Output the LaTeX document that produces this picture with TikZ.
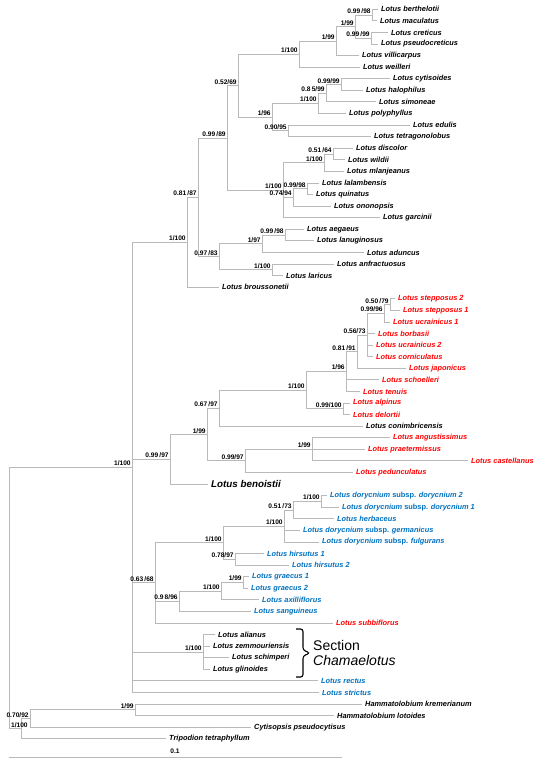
\documentclass[tikz,border=0pt]{standalone}
\usepackage{fontspec}
\setmainfont{Liberation Sans}
\definecolor{branchgray}{RGB}{185,185,185}
\definecolor{lotred}{RGB}{255,0,0}
\definecolor{lotblue}{RGB}{0,112,192}
\tikzset{
  branch/.style={draw=branchgray, line width=0.9pt},
  taxon/.style={anchor=west, inner xsep=3pt, inner ysep=0pt, font=\fontsize{7.4}{8}\selectfont\bfseries\itshape},
  sup/.style={anchor=south east, inner sep=1.2pt, font=\fontsize{6.6}{7}\selectfont\bfseries},
}

\begin{document}
\begin{tikzpicture}[x=1pt, y=-1pt]
    \useasboundingbox (0,0) rectangle (550,764);

    % taxa
    \node[taxon] (bert) at (378,9.3) {Lotus berthelotii};
    \node[taxon] (macu) at (377,20.9) {Lotus maculatus};
    \node[taxon] (cret) at (388,32.5) {Lotus creticus};
    \node[taxon] (pseu) at (378,44.0) {Lotus pseudocreticus};
    \node[taxon] (vill) at (359,55.6) {Lotus villicarpus};
    \node[taxon] (weil) at (360,67.2) {Lotus weilleri};
    \node[taxon] (cyti) at (390,78.8) {Lotus cytisoides};
    \node[taxon] (halo) at (363,90.4) {Lotus halophilus};
    \node[taxon] (simo) at (376,101.9) {Lotus simoneae};
    \node[taxon] (poly) at (346,113.5) {Lotus polyphyllus};
    \node[taxon] (edul) at (410,125.1) {Lotus edulis};
    \node[taxon] (tetr) at (371,136.7) {Lotus tetragonolobus};
    \node[taxon] (disc) at (353,148.3) {Lotus discolor};
    \node[taxon] (wild) at (345,159.8) {Lotus wildii};
    \node[taxon] (mlan) at (344,171.4) {Lotus mlanjeanus};
    \node[taxon] (lala) at (319,183.0) {Lotus lalambensis};
    \node[taxon] (quin) at (313,194.6) {Lotus quinatus};
    \node[taxon] (onon) at (331,206.2) {Lotus ononopsis};
    \node[taxon] (garc) at (380,217.7) {Lotus garcinii};
    \node[taxon] (aega) at (304,229.3) {Lotus aegaeus};
    \node[taxon] (lanu) at (314,240.9) {Lotus lanuginosus};
    \node[taxon] (adun) at (364,252.5) {Lotus aduncus};
    \node[taxon] (anfr) at (334,264.1) {Lotus anfractuosus};
    \node[taxon] (lari) at (283,275.6) {Lotus laricus};
    \node[taxon] (brou) at (219,287.2) {Lotus broussonetii};
    \node[taxon, lotred] (step2) at (395,298.8) {Lotus stepposus 2};
    \node[taxon, lotred] (step1) at (400,310.4) {Lotus stepposus 1};
    \node[taxon, lotred] (ucra1) at (390,322.0) {Lotus ucrainicus 1};
    \node[taxon, lotred] (borb) at (375,333.5) {Lotus borbasii};
    \node[taxon, lotred] (ucra2) at (373,345.1) {Lotus ucrainicus 2};
    \node[taxon, lotred] (corn) at (373,356.7) {Lotus corniculatus};
    \node[taxon, lotred] (japo) at (406,368.3) {Lotus japonicus};
    \node[taxon, lotred] (scho) at (379,379.9) {Lotus schoelleri};
    \node[taxon, lotred] (tenu) at (360,391.4) {Lotus tenuis};
    \node[taxon, lotred] (alpi) at (350,403.0) {Lotus alpinus};
    \node[taxon, lotred] (delo) at (350,414.6) {Lotus delortii};
    \node[taxon] (coni) at (363,426.2) {Lotus conimbricensis};
    \node[taxon, lotred] (angu) at (390,437.8) {Lotus angustissimus};
    \node[taxon, lotred] (prae) at (365,449.3) {Lotus praetermissus};
    \node[taxon, lotred] (cast) at (468,460.9) {Lotus castellanus};
    \node[taxon, lotred] (pedu) at (353,472.5) {Lotus pedunculatus};
    \node[taxon, font=\fontsize{9.8}{11}\selectfont\bfseries\itshape] (beno) at (208,484.1) {Lotus benoistii};
    \node[taxon, lotblue] (dory2) at (327,495.7) {Lotus dorycnium \textup{subsp.} dorycnium 2};
    \node[taxon, lotblue] (dory1) at (339,507.2) {Lotus dorycnium \textup{subsp.} dorycnium 1};
    \node[taxon, lotblue] (herb) at (334,518.8) {Lotus herbaceus};
    \node[taxon, lotblue] (germ) at (300,530.4) {Lotus dorycnium \textup{subsp.} germanicus};
    \node[taxon, lotblue] (fulg) at (319,542.0) {Lotus dorycnium \textup{subsp.} fulgurans};
    \node[taxon, lotblue] (hirs1) at (264,553.6) {Lotus hirsutus 1};
    \node[taxon, lotblue] (hirs2) at (289,565.1) {Lotus hirsutus 2};
    \node[taxon, lotblue] (grae1) at (249,576.7) {Lotus graecus 1};
    \node[taxon, lotblue] (grae2) at (248,588.3) {Lotus graecus 2};
    \node[taxon, lotblue] (axil) at (259,599.9) {Lotus axilliflorus};
    \node[taxon, lotblue] (sang) at (251,611.5) {Lotus sanguineus};
    \node[taxon, lotred] (subb) at (333,623.0) {Lotus subbiflorus};
    \node[taxon] (alia) at (215,634.6) {Lotus alianus};
    \node[taxon] (zemm) at (210,646.2) {Lotus zemmouriensis};
    \node[taxon] (schi) at (229,657.8) {Lotus schimperi};
    \node[taxon] (glin) at (210,669.4) {Lotus glinoides};
    \node[taxon, lotblue] (rect) at (318,680.9) {Lotus rectus};
    \node[taxon, lotblue] (stri) at (319,692.5) {Lotus strictus};
    \node[taxon] (krem) at (362,704.1) {Hammatolobium kremerianum};
    \node[taxon] (loto) at (334,715.7) {Hammatolobium lotoides};
    \node[taxon] (cyps) at (251,727.3) {Cytisopsis pseudocytisus};
    \node[taxon] (trip) at (166,738.8) {Tripodion tetraphyllum};

    % internal nodes
    \coordinate (n10) at (372,15.1);
    \coordinate (n11) at (371,38.3);
    \coordinate (n9) at (355,26.7);
    \coordinate (n8) at (336,41.2);
    \coordinate (n6) at (299,54.2);
    \coordinate (n15) at (341,84.6);
    \coordinate (n14) at (326,93.3);
    \coordinate (n12) at (318,103.4);
    \coordinate (n13) at (288,130.9);
    \coordinate (n7) at (272,117.1);
    \coordinate (n4) at (238,85.7);
    \coordinate (n20) at (333,154.1);
    \coordinate (n16) at (324,162.7);
    \coordinate (n19) at (307,188.8);
    \coordinate (n17) at (293,197.5);
    \coordinate (n5) at (283,190.2);
    \coordinate (n3) at (227,138.0);
    \coordinate (n23) at (285,235.1);
    \coordinate (n21) at (262,243.8);
    \coordinate (n22) at (272,269.9);
    \coordinate (n24) at (219,256.8);
    \coordinate (n2) at (198,197.4);
    \coordinate (n1) at (187,242.3);
    \coordinate (m20) at (390,304.6);
    \coordinate (m19) at (384,313.3);
    \coordinate (m18) at (367,335.0);
    \coordinate (m17) at (357,351.6);
    \coordinate (m15) at (346,371.5);
    \coordinate (m16) at (343,408.8);
    \coordinate (m14) at (306,390.2);
    \coordinate (m12) at (219,408.2);
    \coordinate (m21) at (312,449.3);
    \coordinate (m13) at (245,460.9);
    \coordinate (m11) at (207,434.6);
    \coordinate (m1) at (170,459.3);
    \coordinate (m8) at (321,501.5);
    \coordinate (m7) at (293,510.1);
    \coordinate (m5) at (284,526.1);
    \coordinate (m6) at (235,559.4);
    \coordinate (m3) at (223,542.7);
    \coordinate (m10) at (243,582.5);
    \coordinate (m9) at (221,591.2);
    \coordinate (m4) at (179,601.3);
    \coordinate (m2) at (155,582.9);
    \coordinate (cham) at (203,652.0);
    \coordinate (lotus) at (132,467.4);
    \coordinate (hamm) at (135,709.9);
    \coordinate (out2) at (30,718.6);
    \coordinate (out1) at (21,728.7);
    \coordinate (root) at (9,598.1);

    % branches
    \draw[branch] (n10) |- (bert);
    \draw[branch] (n10) |- (macu);
    \draw[branch] (n11) |- (cret);
    \draw[branch] (n11) |- (pseu);
    \draw[branch] (n9) |- (n10);
    \draw[branch] (n9) |- (n11);
    \draw[branch] (n8) |- (n9);
    \draw[branch] (n8) |- (vill);
    \draw[branch] (n6) |- (n8);
    \draw[branch] (n6) |- (weil);
    \draw[branch] (n15) |- (cyti);
    \draw[branch] (n15) |- (halo);
    \draw[branch] (n14) |- (n15);
    \draw[branch] (n14) |- (simo);
    \draw[branch] (n12) |- (n14);
    \draw[branch] (n12) |- (poly);
    \draw[branch] (n13) |- (edul);
    \draw[branch] (n13) |- (tetr);
    \draw[branch] (n7) |- (n12);
    \draw[branch] (n7) |- (n13);
    \draw[branch] (n4) |- (n6);
    \draw[branch] (n4) |- (n7);
    \draw[branch] (n20) |- (disc);
    \draw[branch] (n20) |- (wild);
    \draw[branch] (n16) |- (n20);
    \draw[branch] (n16) |- (mlan);
    \draw[branch] (n19) |- (lala);
    \draw[branch] (n19) |- (quin);
    \draw[branch] (n17) |- (n19);
    \draw[branch] (n17) |- (onon);
    \draw[branch] (n5) |- (n16);
    \draw[branch] (n5) |- (n17);
    \draw[branch] (n5) |- (garc);
    \draw[branch] (n3) |- (n4);
    \draw[branch] (n3) |- (n5);
    \draw[branch] (n23) |- (aega);
    \draw[branch] (n23) |- (lanu);
    \draw[branch] (n21) |- (n23);
    \draw[branch] (n21) |- (adun);
    \draw[branch] (n22) |- (anfr);
    \draw[branch] (n22) |- (lari);
    \draw[branch] (n24) |- (n21);
    \draw[branch] (n24) |- (n22);
    \draw[branch] (n2) |- (n3);
    \draw[branch] (n2) |- (n24);
    \draw[branch] (n1) |- (n2);
    \draw[branch] (n1) |- (brou);
    \draw[branch] (m20) |- (step2);
    \draw[branch] (m20) |- (step1);
    \draw[branch] (m19) |- (m20);
    \draw[branch] (m19) |- (ucra1);
    \draw[branch] (m18) |- (m19);
    \draw[branch] (m18) |- (borb);
    \draw[branch] (m18) |- (ucra2);
    \draw[branch] (m18) |- (corn);
    \draw[branch] (m17) |- (m18);
    \draw[branch] (m17) |- (japo);
    \draw[branch] (m15) |- (m17);
    \draw[branch] (m15) |- (scho);
    \draw[branch] (m15) |- (tenu);
    \draw[branch] (m16) |- (alpi);
    \draw[branch] (m16) |- (delo);
    \draw[branch] (m14) |- (m15);
    \draw[branch] (m14) |- (m16);
    \draw[branch] (m12) |- (m14);
    \draw[branch] (m12) |- (coni);
    \draw[branch] (m21) |- (angu);
    \draw[branch] (m21) |- (prae);
    \draw[branch] (m21) |- (cast);
    \draw[branch] (m13) |- (m21);
    \draw[branch] (m13) |- (pedu);
    \draw[branch] (m11) |- (m12);
    \draw[branch] (m11) |- (m13);
    \draw[branch] (m1) |- (m11);
    \draw[branch] (m1) |- (beno);
    \draw[branch] (m8) |- (dory2);
    \draw[branch] (m8) |- (dory1);
    \draw[branch] (m7) |- (m8);
    \draw[branch] (m7) |- (herb);
    \draw[branch] (m5) |- (m7);
    \draw[branch] (m5) |- (germ);
    \draw[branch] (m5) |- (fulg);
    \draw[branch] (m6) |- (hirs1);
    \draw[branch] (m6) |- (hirs2);
    \draw[branch] (m3) |- (m5);
    \draw[branch] (m3) |- (m6);
    \draw[branch] (m10) |- (grae1);
    \draw[branch] (m10) |- (grae2);
    \draw[branch] (m9) |- (m10);
    \draw[branch] (m9) |- (axil);
    \draw[branch] (m4) |- (m9);
    \draw[branch] (m4) |- (sang);
    \draw[branch] (m2) |- (m3);
    \draw[branch] (m2) |- (m4);
    \draw[branch] (m2) |- (subb);
    \draw[branch] (cham) |- (alia);
    \draw[branch] (cham) |- (zemm);
    \draw[branch] (cham) |- (schi);
    \draw[branch] (cham) |- (glin);
    \draw[branch] (lotus) |- (n1);
    \draw[branch] (lotus) |- (m1);
    \draw[branch] (lotus) |- (m2);
    \draw[branch] (lotus) |- (cham);
    \draw[branch] (lotus) |- (rect);
    \draw[branch] (lotus) |- (stri);
    \draw[branch] (hamm) |- (krem);
    \draw[branch] (hamm) |- (loto);
    \draw[branch] (out2) |- (hamm);
    \draw[branch] (out2) |- (cyps);
    \draw[branch] (out1) |- (out2);
    \draw[branch] (out1) |- (trip);
    \draw[branch] (root) |- (lotus);
    \draw[branch] (root) |- (out1);

    % support values
    \node[sup] (s10) at (n10) {0.99\,/98};
    \node[sup] (s11) at (n11) {0.99\,/99};
    \node[sup] (s9) at (n9) {1/99};
    \node[sup] (s8) at (n8) {1/99};
    \node[sup] (s6) at (n6) {1/100};
    \node[sup] (s15) at (n15) {0.99/99};
    \node[sup] (s14) at (n14) {0.8\,5/99};
    \node[sup] (s12) at (n12) {1/100};
    \node[sup] (s13) at (n13) {0.90/95};
    \node[sup] (s7) at (n7) {1/96};
    \node[sup] (s4) at (n4) {0.52/69};
    \node[sup] (s20) at (n20) {0.51\,/64};
    \node[sup] (s16) at (n16) {1/100};
    \node[sup] (s19) at (n19) {0.99/98};
    \node[sup] (s17) at (n17) {0.74/94};
    \node[sup] (s5) at (n5) {1/100};
    \node[sup] (s3) at (n3) {0.99\,/89};
    \node[sup] (s23) at (n23) {0.99\,/98};
    \node[sup] (s21) at (n21) {1/97};
    \node[sup] (s22) at (n22) {1/100};
    \node[sup] (s24) at (n24) {0.97\,/83};
    \node[sup] (s2) at (n2) {0.81\,/87};
    \node[sup] (s1) at (n1) {1/100};
    \node[sup] (t20) at (m20) {0.50\,/79};
    \node[sup] (t19) at (m19) {0.99/96};
    \node[sup] (t18) at (m18) {0.56/73};
    \node[sup] (t17) at (m17) {0.81\,/91};
    \node[sup] (t15) at (m15) {1/96};
    \node[sup] (t16) at (m16) {0.99/100};
    \node[sup] (t14) at (m14) {1/100};
    \node[sup] (t12) at (m12) {0.67\,/97};
    \node[sup] (t21) at (m21) {1/99};
    \node[sup] (t13) at (m13) {0.99/97};
    \node[sup] (t11) at (m11) {1/99};
    \node[sup] (t1) at (m1) {0.99\,/97};
    \node[sup] (t8) at (m8) {1/100};
    \node[sup] (t7) at (m7) {0.51\,/73};
    \node[sup] (t5) at (m5) {1/100};
    \node[sup] (t6) at (m6) {0.78/97};
    \node[sup] (t3) at (m3) {1/100};
    \node[sup] (t10) at (m10) {1/99};
    \node[sup] (t9) at (m9) {1/100};
    \node[sup] (t4) at (m4) {0.9\,8/96};
    \node[sup] (t2) at (m2) {0.63\,/68};
    \node[sup] (tch) at (cham) {1/100};
    \node[sup] (tlot) at (lotus) {1/100};
    \node[sup] (tham) at (hamm) {1/99};
    \node[sup] (tout2) at (out2) {0.70/92};
    \node[sup, xshift=8pt] (tout1) at (out1) {1/100};

    % section Chamaelotus
    \coordinate (bra) at (296,629);
    \coordinate (brb) at (296,677);
    \coordinate (brtip) at (310,653);
    \draw[line width=1.1pt, rounded corners=2.5pt] (bra) -- (303,629) -- (303,650) -- (brtip) -- (303,656) -- (303,677) -- (brb);
    \node[anchor=west, inner sep=0pt, align=left, font=\fontsize{14}{15}\selectfont] (sect) at (313,652.5) {Section\\\textit{Chamaelotus}};

    % scale bar
    \coordinate (bar0) at (9,757);
    \coordinate (bar1) at (342,757);
    \draw[branch] (bar0) -- (bar1);
    \node[sup, anchor=south] (barlab) at (175,755) {0.1};
\end{tikzpicture}
\end{document}
